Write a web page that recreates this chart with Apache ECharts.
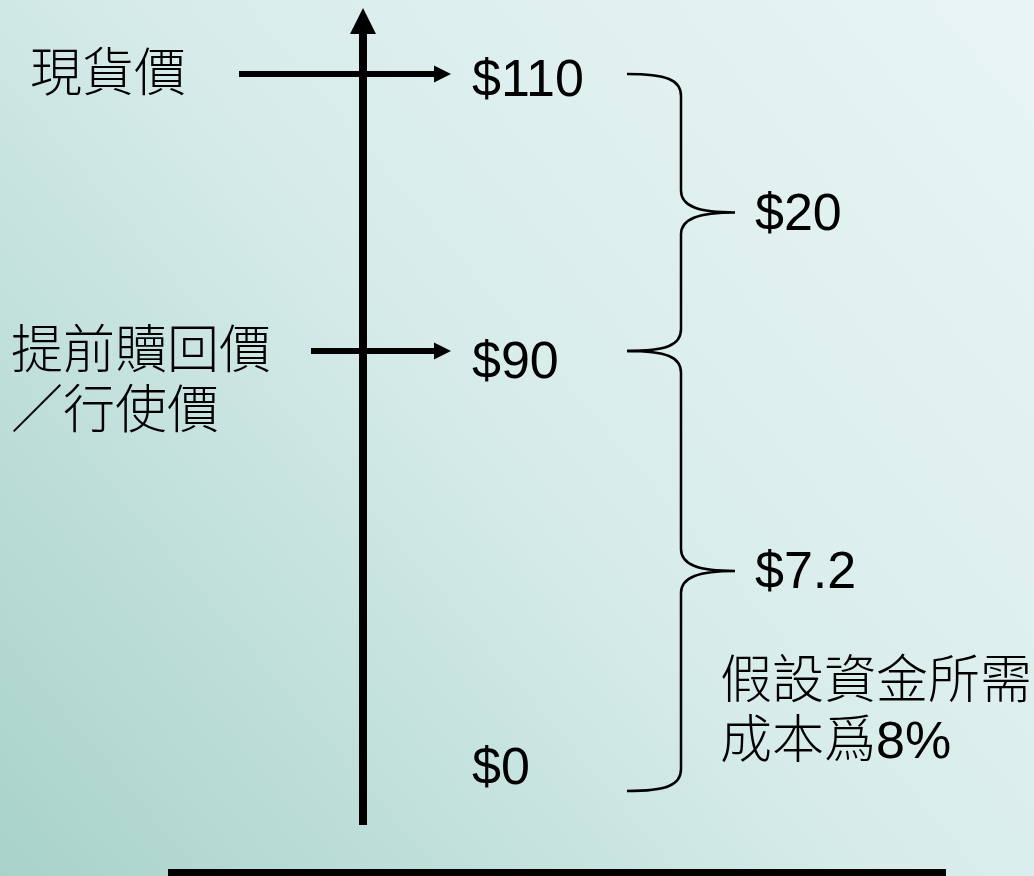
<!DOCTYPE html>
<html>
<head>
<meta charset="utf-8">
<style>
  html, body { margin: 0; padding: 0; }
  #chart { width: 1034px; height: 876px; }
</style>
<script src="https://cdn.jsdelivr.net/npm/echarts@6/dist/echarts.min.js"></script>
</head>
<body>
<div id="chart"></div>
<script>
// price levels, top to bottom
const priceLevels = [110, 90, 0]
const priceLabels = ['$110', '$90', '$0']
const levelNames = ['現貨價', '提前贖回價\n／行使價', '']
// gaps between consecutive levels
const gapLabels = ['$20', '$7.2']
const gapNotes = ['', '假設資金所需\n成本爲8%']

const FONT = '"Liberation Sans", "Noto Sans CJK TC", "Noto Sans CJK SC", sans-serif'
const FONT_SIZE = 52
const ARROW_TIP = 451
const LABEL_X = 472
// where each named level's caption and arrow start
const nameLayout = [{ x: 30, from: 239 }, { x: 11, from: 311 }]
const labelDy = [8, 13, -21]
// one grid per gap so the schematic spacing is kept
const gridBox = [{ top: 74, height: 277 }, { top: 351, height: 440 }]

const chart = echarts.init(document.getElementById('chart'))

const renderLevel = (params, api) => {
  const i = api.value(2)
  const y = api.coord([0, api.value(1)])[1]
  const children = []
  if (levelNames[i]) {
    const lay = nameLayout[i]
    children.push({
      type: 'line',
      shape: { x1: lay.from, y1: y, x2: ARROW_TIP - 12, y2: y },
      style: { stroke: '#000', lineWidth: 6 }
    })
    children.push({
      type: 'polygon',
      shape: { points: [[ARROW_TIP - 17, y - 8.5], [ARROW_TIP, y], [ARROW_TIP - 17, y + 8.5]] },
      style: { fill: '#000' }
    })
    children.push({
      type: 'text',
      x: lay.x,
      y: y - 27,
      style: {
        text: levelNames[i],
        font: `300 ${FONT_SIZE}px ${FONT}`,
        fill: '#000',
        lineHeight: 60,
        verticalAlign: 'top'
      }
    })
  }
  children.push({
    type: 'text',
    x: LABEL_X,
    y: y + labelDy[i],
    style: {
      text: priceLabels[i],
      font: `${FONT_SIZE}px ${FONT}`,
      fill: '#000',
      verticalAlign: 'middle'
    }
  })
  return { type: 'group', children }
}

const renderBrace = (params, api) => {
  const k = api.value(2)
  const yT = api.coord([0, api.value(0)])[1]
  const yB = api.coord([0, api.value(1)])[1]
  const yM = (yT + yB) / 2
  const x0 = 627, xs = 681, xt = 735
  const path = [
    `M${x0} ${yT}`,
    `C${x0 + 40} ${yT} ${xs} ${yT + 6} ${xs} ${yT + 22}`,
    `L${xs} ${yM - 22}`,
    `C${xs} ${yM - 6} ${xs + 18} ${yM} ${xt} ${yM}`,
    `C${xs + 18} ${yM} ${xs} ${yM + 6} ${xs} ${yM + 22}`,
    `L${xs} ${yB - 22}`,
    `C${xs} ${yB - 6} ${x0 + 40} ${yB} ${x0} ${yB}`
  ].join(' ')
  const children = [
    {
      type: 'path',
      shape: { pathData: path },
      style: { stroke: '#000', lineWidth: 2.5, fill: null }
    },
    {
      type: 'text',
      x: 755,
      y: yM + 3,
      style: {
        text: gapLabels[k],
        font: `${FONT_SIZE}px ${FONT}`,
        fill: '#000',
        verticalAlign: 'middle'
      }
    }
  ]
  if (gapNotes[k]) {
    children.push({
      type: 'text',
      x: 720,
      y: yM + 83,
      style: {
        text: gapNotes[k],
        font: `300 ${FONT_SIZE}px ${FONT}`,
        fill: '#000',
        lineHeight: 60,
        verticalAlign: 'top'
      }
    })
  }
  return { type: 'group', children }
}

const grids = gridBox.map(b => ({ left: 0, right: 0, top: b.top, height: b.height }))
const xAxes = gridBox.map((b, g) => ({ type: 'value', gridIndex: g, min: 0, max: 1, show: false }))
const yAxes = gridBox.map((b, g) => ({
  type: 'value', gridIndex: g, min: priceLevels[g + 1], max: priceLevels[g], show: false
}))

const series = []
gridBox.forEach((b, g) => {
  // each level drawn in the grid whose range holds it
  const levelData = priceLevels
    .map((v, i) => [0, v, i])
    .filter(d => Math.min(d[2], gridBox.length - 1) === g)
  series.push({
    type: 'custom',
    xAxisIndex: g,
    yAxisIndex: g,
    renderItem: renderLevel,
    encode: { x: 0, y: 1 },
    data: levelData,
    silent: true,
    clip: false,
    z: 5
  })
  series.push({
    type: 'custom',
    xAxisIndex: g,
    yAxisIndex: g,
    renderItem: renderBrace,
    encode: { y: [0, 1] },
    data: [[priceLevels[g], priceLevels[g + 1], g]],
    silent: true,
    clip: false,
    z: 4
  })
})

const option = {
  animation: false,
  grid: grids,
  xAxis: xAxes,
  yAxis: yAxes,
  graphic: [
    {
      type: 'rect',
      z: -10,
      shape: { x: 0, y: 0, width: 1034, height: 876 },
      style: {
        fill: new echarts.graphic.LinearGradient(0, 1, 1, 0, [
          { offset: 0, color: '#a8d2ca' },
          { offset: 0.5, color: '#d7ecea' },
          { offset: 1, color: '#e9f5f5' }
        ])
      }
    },
    {
      type: 'line',
      z: 3,
      shape: { x1: 363, y1: 30, x2: 363, y2: 825 },
      style: { stroke: '#000', lineWidth: 8 }
    },
    {
      type: 'polygon',
      z: 3,
      shape: { points: [[350, 34], [363, 8], [376, 34]] },
      style: { fill: '#000' }
    },
    {
      type: 'rect',
      z: 3,
      shape: { x: 168, y: 869, width: 778, height: 7 },
      style: { fill: '#000' }
    }
  ],
  series
}

chart.setOption(option)
window.addEventListener('resize', () => chart.resize())
</script>
</body>
</html>
